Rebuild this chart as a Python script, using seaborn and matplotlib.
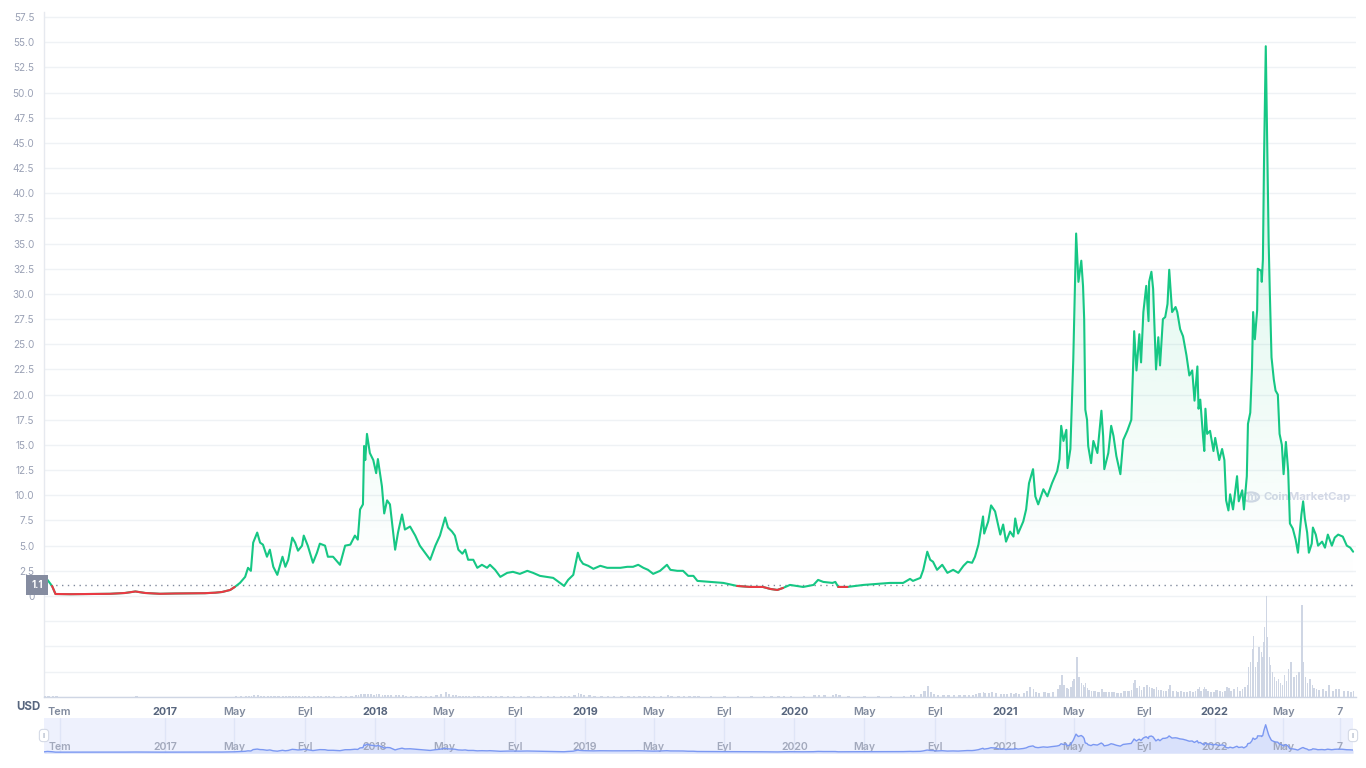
import numpy as np
import pandas as pd
import matplotlib
matplotlib.use("Agg")
import matplotlib.pyplot as plt
import matplotlib.dates as mdates
import matplotlib.transforms as mtransforms
from matplotlib.path import Path
from matplotlib.colors import LinearSegmentedColormap
from matplotlib.patches import Circle
import seaborn as sns

# ---------------- data ----------------
dates_2016 = ["2016-06-04", "2016-06-10", "2016-06-18", "2016-06-24", "2016-07-20", "2016-08-23",
              "2016-09-27", "2016-10-23", "2016-11-10", "2016-11-27", "2016-12-23"]
price_2016 = [0.8, 1.6, 1.0, 0.2, 0.18, 0.2, 0.22, 0.3, 0.45, 0.3, 0.22]
vol_2016 = [1.0, 1.5, 1.0, 0.6, 0.5, 0.5, 0.5, 0.5, 0.6, 0.5, 0.5]

dates_2017 = ["2017-01-18", "2017-02-13", "2017-03-11", "2017-03-29", "2017-04-10", "2017-04-24",
              "2017-05-02", "2017-05-11", "2017-05-20", "2017-05-25", "2017-05-30",
              "2017-06-03", "2017-06-10", "2017-06-15", "2017-06-20", "2017-06-27",
              "2017-07-02", "2017-07-08", "2017-07-15", "2017-07-24", "2017-07-29",
              "2017-08-03", "2017-08-10", "2017-08-15", "2017-08-20", "2017-08-27", "2017-08-30",
              "2017-09-06", "2017-09-15", "2017-09-22", "2017-09-27",
              "2017-10-06", "2017-10-11", "2017-10-20",
              "2017-11-01", "2017-11-10", "2017-11-19", "2017-11-27",
              "2017-12-02", "2017-12-06", "2017-12-11", "2017-12-13", "2017-12-15", "2017-12-18",
              "2017-12-23", "2017-12-29"]
price_2017 = [0.25, 0.26, 0.28, 0.33, 0.4, 0.6,
              0.9, 1.3, 1.9, 2.8, 2.5,
              5.3, 6.3, 5.3, 5.1, 3.9,
              4.6, 2.9, 2.1, 3.9, 2.9,
              3.6, 5.8, 5.3, 4.5, 5.0, 6.0,
              5.0, 3.3, 4.3, 5.2,
              5.0, 3.9, 3.9,
              3.1, 5.0, 5.1, 6.0,
              5.6, 8.6, 9.1, 14.9, 13.5, 16.1, 14.2, 13.5]
vol_2017 = [0.5, 0.5, 0.5, 0.5, 0.5, 0.5,
            1.0, 1.5, 1.5, 1.5, 1.5,
            2, 2, 1.5, 1.5, 1.5,
            1.5, 1.5, 1.5, 1.5, 1.5,
            1.5, 1.5, 1.5, 1.5, 1.5, 1.5,
            1.5, 1.5, 1.5, 1.5,
            1.2, 1.2, 1.2,
            1.2, 1.5, 1.5, 2,
            2.5, 3, 3.5, 3.5, 3.5, 3, 3, 2.5]

dates_2018 = ["2018-01-03", "2018-01-06", "2018-01-13", "2018-01-17", "2018-01-22", "2018-01-27",
              "2018-02-05", "2018-02-10", "2018-02-17", "2018-02-22",
              "2018-03-03", "2018-03-12", "2018-03-20", "2018-03-29",
              "2018-04-07", "2018-04-16", "2018-04-24",
              "2018-05-03", "2018-05-08", "2018-05-15", "2018-05-20", "2018-05-26",
              "2018-06-02", "2018-06-07", "2018-06-12", "2018-06-21", "2018-06-28",
              "2018-07-06", "2018-07-15", "2018-07-20", "2018-07-29",
              "2018-08-07", "2018-08-19", "2018-08-29",
              "2018-09-10", "2018-09-23",
              "2018-10-03", "2018-10-15", "2018-10-27",
              "2018-11-07", "2018-11-19", "2018-11-26",
              "2018-12-03", "2018-12-12", "2018-12-20", "2018-12-24", "2018-12-29"]
price_2018 = [12.2, 13.6, 10.9, 8.2, 9.5, 9.1,
              4.6, 6.3, 8.1, 6.6,
              6.9, 6.0, 5.0, 4.3,
              3.6, 5.0, 6.0,
              7.8, 6.8, 6.4, 6.0, 4.6,
              4.2, 4.6, 3.6, 3.6, 2.8,
              3.1, 2.8, 3.1, 2.6,
              1.9, 2.3, 2.4,
              2.2, 2.5,
              2.3, 2.0, 1.9,
              1.8, 1.3, 1.0,
              1.6, 2.1, 4.3, 3.6, 3.2]
vol_2018 = [3, 3, 2.5, 2.5, 2, 2,
            2, 2, 2, 1.5,
            1.5, 1.5, 1.5, 1.5,
            1.5, 2, 3,
            5, 3, 2, 2, 1.5,
            1.5, 1.5, 1.2, 1.2, 1.2,
            1, 1, 1, 1,
            1, 1, 1,
            1, 1,
            1, 1, 1,
            1, 1.5, 1.5,
            1.5, 2, 4, 3, 2]

dates_2019 = ["2019-01-07", "2019-01-16", "2019-01-28",
              "2019-02-09", "2019-02-19",
              "2019-03-04", "2019-03-16", "2019-03-26",
              "2019-04-04", "2019-04-13", "2019-04-21", "2019-04-30",
              "2019-05-12", "2019-05-24", "2019-05-30",
              "2019-06-11", "2019-06-21", "2019-06-30",
              "2019-07-09", "2019-07-16",
              "2019-08-07", "2019-08-30",
              "2019-09-23", "2019-10-16",
              "2019-11-07", "2019-11-20",
              "2019-12-02", "2019-12-12", "2019-12-24"]
price_2019 = [3.0, 2.7, 3.0,
              2.8, 2.8,
              2.8, 2.9, 2.9,
              3.1, 2.8, 2.6, 2.2,
              2.5, 3.1, 2.6,
              2.5, 2.5, 2.0,
              2.0, 1.5,
              1.4, 1.3,
              1.0, 0.9,
              0.9, 0.7,
              0.6, 0.8, 1.1]
vol_2019 = [2, 1.5, 1.5,
            1.2, 1.2,
            1.2, 1.2, 1.2,
            1.5, 1.2, 1.2, 1.2,
            1.5, 2, 1.5,
            1.2, 1.2, 1.2,
            1.2, 1.2,
            1, 1,
            1, 1,
            1, 1,
            1, 1, 1]

dates_2020 = ["2020-01-16",
              "2020-02-03", "2020-02-11", "2020-02-20",
              "2020-03-07", "2020-03-12", "2020-03-17",
              "2020-04-02", "2020-04-30",
              "2020-05-24", "2020-06-15",
              "2020-07-08", "2020-07-20", "2020-07-25",
              "2020-08-07", "2020-08-12", "2020-08-19", "2020-08-24", "2020-08-29",
              "2020-09-05", "2020-09-14", "2020-09-23",
              "2020-10-03", "2020-10-12", "2020-10-21", "2020-10-28",
              "2020-11-05", "2020-11-10", "2020-11-16", "2020-11-24", "2020-11-26",
              "2020-12-03", "2020-12-08", "2020-12-15", "2020-12-24", "2020-12-29"]
price_2020 = [0.9,
              1.1, 1.6, 1.4,
              1.3, 1.4, 0.9,
              0.9, 1.1,
              1.2, 1.3,
              1.3, 1.7, 1.5,
              1.8, 2.6, 4.4, 3.6, 3.4,
              2.6, 3.1, 2.3,
              2.6, 2.3, 3.0, 3.4,
              3.3, 3.9, 5.1, 7.9, 6.2,
              7.4, 9.0, 8.4, 6.1, 7.1]
vol_2020 = [1.5,
            2, 2.5, 2,
            2, 3, 2,
            1.5, 1.5,
            1.5, 1.5,
            1.5, 2, 2,
            3, 6, 11, 5, 3,
            2.5, 2.5, 2,
            2, 2, 2.5, 2.5,
            2.5, 3, 4, 5, 4,
            4, 5, 4, 3, 3]

dates_2021 = ["2021-01-03", "2021-01-10", "2021-01-16", "2021-01-19", "2021-01-24",
              "2021-02-02", "2021-02-07", "2021-02-12", "2021-02-19", "2021-02-23", "2021-02-28",
              "2021-03-09", "2021-03-16", "2021-03-24",
              "2021-04-02", "2021-04-06", "2021-04-09", "2021-04-13", "2021-04-18", "2021-04-20",
              "2021-04-25", "2021-04-28", "2021-04-30",
              "2021-05-05", "2021-05-09", "2021-05-14", "2021-05-17", "2021-05-19", "2021-05-21",
              "2021-05-24", "2021-05-26", "2021-05-31",
              "2021-06-04", "2021-06-11", "2021-06-18", "2021-06-21", "2021-06-23", "2021-06-30",
              "2021-07-05", "2021-07-09", "2021-07-14", "2021-07-21", "2021-07-26",
              "2021-08-02", "2021-08-09", "2021-08-12", "2021-08-14", "2021-08-18", "2021-08-23",
              "2021-08-26", "2021-08-30",
              "2021-09-04", "2021-09-08", "2021-09-09", "2021-09-13", "2021-09-16", "2021-09-21",
              "2021-09-25", "2021-09-28",
              "2021-10-03", "2021-10-07", "2021-10-11", "2021-10-14", "2021-10-19", "2021-10-25",
              "2021-10-28",
              "2021-11-02", "2021-11-07", "2021-11-13", "2021-11-18", "2021-11-23", "2021-11-27",
              "2021-12-02", "2021-12-04", "2021-12-07", "2021-12-12", "2021-12-14", "2021-12-16",
              "2021-12-19", "2021-12-24", "2021-12-30"]
price_2021 = [5.4, 6.4, 5.9, 7.7, 6.2,
              7.4, 8.6, 11.2, 12.6, 9.9, 9.1,
              10.6, 9.9, 11.2,
              12.4, 13.6, 16.9, 15.4, 16.5, 12.7, 14.6, 19.9, 23.4,
              36.0, 31.2, 33.3, 30.8, 27.5, 18.5, 17.5, 14.9, 13.2,
              15.4, 14.2, 18.4, 15.9, 12.6, 14.2,
              16.9, 15.9, 13.9, 12.1, 15.5,
              16.4, 17.5, 22.5, 26.3, 22.4, 26.0, 23.2, 28.2,
              30.8, 27.3, 31.2, 32.2, 30.5, 22.5, 25.7, 22.9,
              27.5, 27.7, 29.0, 32.4, 28.2, 28.7, 28.2,
              26.5, 25.8, 23.9, 21.9, 22.4, 19.4,
              22.8, 18.6, 19.5, 15.7, 14.4, 18.6, 16.1, 16.4, 14.4]
vol_2021 = [3, 4, 3, 4, 3,
            4, 6, 10, 8, 5, 4,
            5, 4, 5,
            8, 12, 22, 12, 9, 8, 10, 16, 18,
            40, 20, 14, 12, 10, 14, 9, 7, 6,
            6, 5, 8, 5, 5, 5,
            5, 5, 4, 4, 6,
            6, 7, 14, 17, 9, 11, 7, 10,
            12, 8, 10, 9, 8, 10, 7, 7,
            6, 6, 8, 12, 6, 6, 5,
            6, 5, 5, 6, 5, 6,
            8, 10, 6, 8, 10, 8, 6, 5, 5]

dates_2022 = ["2022-01-02", "2022-01-09", "2022-01-14", "2022-01-18", "2022-01-21", "2022-01-25",
              "2022-01-28",
              "2022-02-02", "2022-02-09", "2022-02-12", "2022-02-18", "2022-02-21", "2022-02-26",
              "2022-02-28",
              "2022-03-04", "2022-03-07", "2022-03-09", "2022-03-12", "2022-03-16", "2022-03-17",
              "2022-03-23", "2022-03-24", "2022-03-26", "2022-03-28", "2022-03-31",
              "2022-04-02", "2022-04-05", "2022-04-07", "2022-04-10", "2022-04-14", "2022-04-17",
              "2022-04-21", "2022-04-24", "2022-04-28",
              "2022-05-01", "2022-05-05", "2022-05-09", "2022-05-12", "2022-05-17", "2022-05-22",
              "2022-05-26",
              "2022-06-01", "2022-06-04", "2022-06-07", "2022-06-11", "2022-06-14", "2022-06-19",
              "2022-06-21", "2022-06-26", "2022-06-30",
              "2022-07-07", "2022-07-12", "2022-07-17", "2022-07-24", "2022-07-29",
              "2022-08-04", "2022-08-12", "2022-08-19", "2022-08-25", "2022-08-30"]
price_2022 = [15.7, 13.5, 14.6, 13.5, 9.5, 8.5, 10.1,
              8.6, 11.9, 9.4, 10.5, 8.6, 11.9, 17.1,
              18.2, 22.6, 28.2, 25.5, 28.4, 32.5, 32.3, 31.2, 33.4, 43.5, 54.6,
              46.8, 35.2, 30.2, 23.7, 21.5, 20.4, 20.0, 16.1, 15.0,
              12.1, 15.3, 12.4, 7.2, 6.7, 5.6, 4.3,
              8.1, 9.4, 7.7, 6.3, 4.3, 5.2, 6.8, 6.1, 5.0,
              5.4, 4.8, 6.1, 5.0, 5.8,
              6.1, 5.9, 5.0, 4.8, 4.4]
vol_2022 = [7, 6, 5, 6, 10, 9, 6,
            8, 10, 6, 8, 10, 12, 30,
            35, 48, 61, 30, 35, 50, 45, 40, 55, 70, 101,
            60, 40, 32, 25, 20, 16, 18, 14, 12,
            22, 16, 28, 35, 20, 22, 25,
            92, 35, 20, 14, 18, 12, 9, 8, 7,
            8, 6, 12, 6, 8,
            8, 6, 6, 5, 6]

baseline_price = 1.1
y_ticks = [0, 2.5, 5.0, 7.5, 10.0, 12.5, 15.0, 17.5, 20.0, 22.5, 25.0, 27.5, 30.0, 32.5,
           35.0, 37.5, 40.0, 42.5, 45.0, 47.5, 50.0, 52.5, 55.0, 57.5]
tick_dates = ["2016-07-01", "2017-01-01", "2017-05-01", "2017-09-01", "2018-01-01", "2018-05-01",
              "2018-09-01", "2019-01-01", "2019-05-01", "2019-09-01", "2020-01-01", "2020-05-01",
              "2020-09-01", "2021-01-01", "2021-05-01", "2021-09-01", "2022-01-01", "2022-05-01",
              "2022-08-07"]
tick_labels = ["Tem", "2017", "May", "Eyl", "2018", "May", "Eyl", "2019", "May", "Eyl", "2020",
               "May", "Eyl", "2021", "May", "Eyl", "2022", "May", "7"]

# ---------------- assemble ----------------
dates = pd.to_datetime(dates_2016 + dates_2017 + dates_2018 + dates_2019 + dates_2020
                       + dates_2021 + dates_2022)
price = np.array(price_2016 + price_2017 + price_2018 + price_2019 + price_2020
                 + price_2021 + price_2022, dtype=float)
volume = np.array(vol_2016 + vol_2017 + vol_2018 + vol_2019 + vol_2020
                  + vol_2021 + vol_2022, dtype=float)
assert len(dates) == len(price) == len(volume)
tdates = pd.to_datetime(tick_dates)

GREEN = "#16c784"
RED = "#ea3943"
GRID = "#eff2f5"

sns.set_theme(style="white")
plt.rcParams['font.family'] = ['Inter', 'DejaVu Sans']

W, H = 1366, 768
fig = plt.figure(figsize=(W / 100, H / 100), dpi=100)
fig.patch.set_facecolor("white")


def rect(x0, y0, x1, y1):
    return [x0 / W, 1 - y1 / H, (x1 - x0) / W, (y1 - y0) / H]


ax = fig.add_axes(rect(44, 12, 1356, 697))
axv = fig.add_axes(rect(44, 596, 1356, 697), sharex=ax)
axn = fig.add_axes(rect(44, 718, 1353, 753))

xmin = pd.Timestamp("2016-06-04")
xmax = pd.Timestamp("2022-09-04")
ymin, ymax = -10.03, 58.0

# ---- main price line ----
sns.lineplot(x=dates, y=price, ax=ax, color=GREEN, lw=1.5, zorder=5)
below = price < baseline_price
red_y = np.where(below, price, np.nan)
ax.plot(dates, red_y, color=RED, lw=1.5, zorder=6, solid_capstyle="round")

# gradient fill under the green line (between line and baseline)
poly = ax.fill_between(dates, price, baseline_price, where=price >= baseline_price,
                       interpolate=True, facecolor="none", edgecolor="none")
cmap = LinearSegmentedColormap.from_list(
    "g", [(22 / 255, 199 / 255, 132 / 255, 0.0), (22 / 255, 199 / 255, 132 / 255, 0.20)])
grad = np.linspace(0, 1, 256).reshape(-1, 1)
im = ax.imshow(grad, extent=[mdates.date2num(xmin), mdates.date2num(xmax), baseline_price, ymax],
               origin="lower", aspect="auto", cmap=cmap, zorder=2, interpolation="bilinear")
compound = Path.make_compound_path(*poly.get_paths())
im.set_clip_path(compound, ax.transData)

# baseline dotted
ax.axhline(baseline_price, color="#808a9d", lw=1.0, ls=(0, (1, 3.2)), zorder=3)

ax.set_xlim(xmin, xmax)
ax.set_ylim(ymin, ymax)
ax.set_yticks(y_ticks)
ax.set_yticklabels(["0" if v == 0 else f"{v:.1f}" for v in y_ticks])
ax.set_yticks([-10, -7.5, -5, -2.5], minor=True)
ax.grid(axis="y", which="both", color=GRID, lw=1.0, zorder=0)
ax.grid(axis="x", visible=False)
ax.tick_params(axis="y", which="both", length=0, pad=7, labelsize=7.2, labelcolor="#9aa1b5")
ax.set_xticks(tdates)
ax.set_xticklabels(tick_labels)
ax.tick_params(axis="x", length=3, width=1, color="#cfd6e4", pad=4, labelsize=7.8)
for lab in ax.get_xticklabels():
    if lab.get_text().isdigit() and len(lab.get_text()) == 4:
        lab.set_color("#58667e")
        lab.set_fontweight("bold")
    else:
        lab.set_color("#808a9d")
        lab.set_fontweight("semibold")
ax.set_xlabel("")
ax.set_ylabel("")
for s in ["top", "right"]:
    ax.spines[s].set_visible(False)
ax.spines["left"].set_color("#e6e9ef")
ax.spines["bottom"].set_color("#cfd6e4")
ax.spines["left"].set_linewidth(1)
ax.spines["bottom"].set_linewidth(1)

# "1.1" tag on the axis
trans = mtransforms.blended_transform_factory(ax.transAxes, ax.transData)
ax.text(-0.001, baseline_price, "1.1", transform=trans, ha="right", va="center",
        fontsize=7, color="white", fontweight="bold", zorder=10, clip_on=False,
        bbox=dict(boxstyle="square,pad=0.5", fc="#858ca0", ec="none"))

# watermark
ax.add_patch(Circle((1251 / W, 1 - 497 / H), 8 / W, transform=fig.transFigure, fill=False,
                    ec="#d3d8e6", lw=1.6, zorder=1))
ax.text(1251 / W, 1 - 497.5 / H, "m", transform=fig.transFigure, ha="center", va="center",
        fontsize=8, color="#d3d8e6", fontweight="bold", zorder=1)
ax.text(1264 / W, 1 - 497 / H, "CoinMarketCap", transform=fig.transFigure, ha="left",
        va="center", fontsize=8.2, color="#d3d8e6", fontweight="bold", zorder=1)

# ---- volume bars ----
gaps = np.diff(mdates.date2num(dates))
widths = np.clip(np.append(gaps, 3.0) * 0.6, 2.0, 4.0)
axv.bar(dates, volume, width=widths, align="edge", color="#cfd6e4", edgecolor="none")
axv.set_ylim(0, 101)
axv.set_facecolor("none")
axv.axis("off")
axv.set_xlim(xmin, xmax)

# ---- navigator ----
axn.set_facecolor("#eef1fd")
axn.fill_between(dates, price, -2, color="#d9e1fb", lw=0)
sns.lineplot(x=dates, y=price, ax=axn, color="#7b98f2", lw=1.0)
axn.set_xlim(dates[0], dates[-1])
axn.set_ylim(-1.5, 68)
axn.set_xticks(tdates)
axn.grid(axis="x", color="#dfe5f7", lw=1)
axn.grid(axis="y", visible=False)
axn.tick_params(length=0, labelbottom=False, labelleft=False)
axn.set_xlabel("")
axn.set_ylabel("")
for s in axn.spines.values():
    s.set_visible(False)
ntrans = mtransforms.blended_transform_factory(axn.transData, axn.transAxes)
for d, lab in zip(tdates, tick_labels):
    axn.text(d, 0.17, lab, transform=ntrans, ha="center", va="center", fontsize=7.6,
             color="#9aa1b5", fontweight="semibold", alpha=0.9, zorder=1)
for xa in (0.0, 1.0):
    axn.text(xa, 0.5, "ll", transform=axn.transAxes, ha="center", va="center", fontsize=4.5,
             color="#a6b0c3", clip_on=False, zorder=20,
             bbox=dict(boxstyle="round,pad=0.5,rounding_size=0.5", fc="white", ec="#d5dae6", lw=0.8))

# USD label
fig.text(28 / W, 1 - 707 / H, "USD", ha="center", va="center", fontsize=8.3,
         fontweight="bold", color="#58667e")

fig.savefig("out.png", dpi=100, facecolor="white")
